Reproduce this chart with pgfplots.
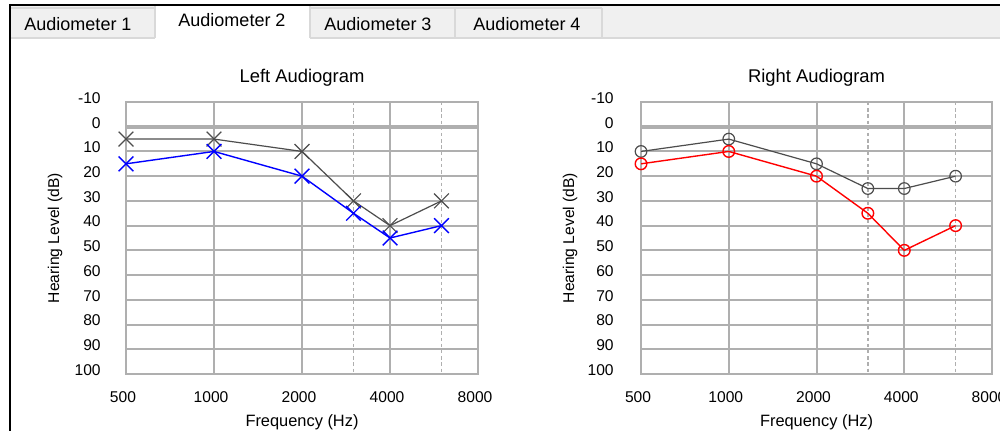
\documentclass[border=0pt]{standalone}
\usepackage{fontspec}
\setmainfont{Liberation Sans}
\usepackage{pgfplots}
\pgfplotsset{compat=1.18}

\definecolor{gridgray}{RGB}{175,175,175}
\definecolor{tabgray}{RGB}{240,240,240}
\definecolor{tabline}{RGB}{217,217,217}
\definecolor{lineg}{RGB}{77,77,77}

\begin{document}
\begin{tikzpicture}
\useasboundingbox (0pt,0pt) rectangle (500pt,215.5pt);
\fill[white] (0pt,0pt) rectangle (500pt,215.5pt);

% tab strip
\fill[tabgray] (5pt,196.5pt) rectangle (500pt,213pt);
\draw[tabline, line width=0.8pt] (5pt,196.5pt) -- (500pt,196.5pt);
\draw[tabline, line width=0.6pt] (5pt,211.5pt) -- (301pt,211.5pt);
\foreach \xx in {77.5,227.5,301} {
  \draw[tabline, line width=0.8pt] (\xx pt,196.5pt) -- (\xx pt,211.5pt);
}
% selected tab
\fill[white] (77.5pt,195.5pt) rectangle (155pt,213pt);
\draw[tabline, line width=0.8pt] (77.5pt,196.5pt) -- (77.5pt,213pt);
\draw[tabline, line width=0.8pt] (155pt,196.5pt) -- (155pt,213pt);

\draw[black, line width=1.1pt] (5pt,213pt) -- (500pt,213pt);
\draw[black, line width=1pt] (5pt,213.5pt) -- (5pt,0pt);

\node[font=\fontsize{9}{11}\selectfont] at (39pt,203.5pt) {Audiometer 1};
\node[font=\fontsize{9}{11}\selectfont] at (116pt,205.5pt) {Audiometer 2};
\node[font=\fontsize{9}{11}\selectfont] at (189pt,203.5pt) {Audiometer 3};
\node[font=\fontsize{9}{11}\selectfont] at (263.5pt,203.5pt) {Audiometer 4};

% left audiogram
\begin{axis}[
    at={(63pt,28.5pt)}, anchor=south west,
    scale only axis,
    width=176pt, height=136pt,
    xmode=log, log basis x=2,
    xmin=500, xmax=8000,
    ymin=-10, ymax=100, y dir=reverse,
    xtick={500,1000,2000,4000,8000},
    xticklabels={500,1000,2000,4000,8000},
    ytick={-10,0,...,100},
    /pgf/number format/assume math mode=true,
    major tick length=0pt,
    grid=major,
    major grid style={gridgray, line width=1pt},
    axis line style={gridgray, line width=1pt},
    extra x ticks={3000,6000},
    extra x tick labels={},
    extra x tick style={major grid style={gridgray, line width=0.7pt, dash pattern=on 1.7pt off 1.4pt}},
    extra y ticks={0},
    extra y tick labels={},
    extra y tick style={major grid style={gridgray, line width=2pt}},
    tick label style={font=\fontsize{7.8}{9}\selectfont},
    xticklabel style={anchor=center, yshift=-11.5pt, xshift=-1.5pt},
    yticklabel style={anchor=east, inner sep=0pt, yshift=2pt, xshift=-12.5pt},
    title={Left Audiogram},
    title style={font=\fontsize{9.2}{11}\selectfont, anchor=base, at={(0.5,1)}, yshift=3.5pt},
    xlabel={Frequency (Hz)},
    xlabel style={font=\fontsize{8.2}{10}\selectfont, at={(axis description cs:0.5,0)}, anchor=center, yshift=-24pt},
    ylabel={Hearing Level (dB)},
    ylabel style={font=\fontsize{7.8}{9}\selectfont, at={(axis description cs:0,0.5)}, anchor=center, yshift=35.5pt},
    clip mode=individual]
  \addplot[lineg, line width=0.6pt, mark=x, mark size=5.2pt, mark options={lineg, line width=0.6pt}]
    coordinates {(500,5) (1000,5) (2000,10) (3000,30) (4000,40) (6000,30)};
  \addplot[blue, line width=0.7pt, mark=x, mark size=5.2pt, mark options={blue, line width=0.7pt}]
    coordinates {(500,15) (1000,10) (2000,20) (3000,35) (4000,45) (6000,40)};
\end{axis}

% right audiogram
\begin{axis}[
    at={(320.5pt,28.5pt)}, anchor=south west,
    scale only axis,
    width=175.5pt, height=136pt,
    xmode=log, log basis x=2,
    xmin=500, xmax=8000,
    ymin=-10, ymax=100, y dir=reverse,
    xtick={500,1000,2000,4000,8000},
    xticklabels={500,1000,2000,4000,8000},
    ytick={-10,0,...,100},
    /pgf/number format/assume math mode=true,
    major tick length=0pt,
    grid=major,
    major grid style={gridgray, line width=1pt},
    axis line style={gridgray, line width=1pt},
    extra x ticks={3000,6000},
    extra x tick labels={},
    extra x tick style={major grid style={gridgray, line width=0.7pt, dash pattern=on 1.7pt off 1.4pt}},
    extra y ticks={0},
    extra y tick labels={},
    extra y tick style={major grid style={gridgray, line width=2pt}},
    tick label style={font=\fontsize{7.8}{9}\selectfont},
    xticklabel style={anchor=center, yshift=-11.5pt, xshift=-1.5pt},
    yticklabel style={anchor=east, inner sep=0pt, yshift=2pt, xshift=-13.5pt},
    title={Right Audiogram},
    title style={font=\fontsize{9.2}{11}\selectfont, anchor=base, at={(0.5,1)}, yshift=3.5pt},
    xlabel={Frequency (Hz)},
    xlabel style={font=\fontsize{8.2}{10}\selectfont, at={(axis description cs:0.5,0)}, anchor=center, yshift=-24pt},
    ylabel={Hearing Level (dB)},
    ylabel style={font=\fontsize{7.8}{9}\selectfont, at={(axis description cs:0,0.5)}, anchor=center, yshift=35.5pt},
    clip mode=individual]
  \addplot[lineg, line width=0.6pt, mark=o, mark size=2.9pt, mark options={lineg, line width=0.6pt}]
    coordinates {(500,10) (1000,5) (2000,15) (3000,25) (4000,25) (6000,20)};
  \addplot[red, line width=0.7pt, mark=o, mark size=2.9pt, mark options={red, line width=0.7pt}]
    coordinates {(500,15) (1000,10) (2000,20) (3000,35) (4000,50) (6000,40)};
\end{axis}
\end{tikzpicture}
\end{document}
